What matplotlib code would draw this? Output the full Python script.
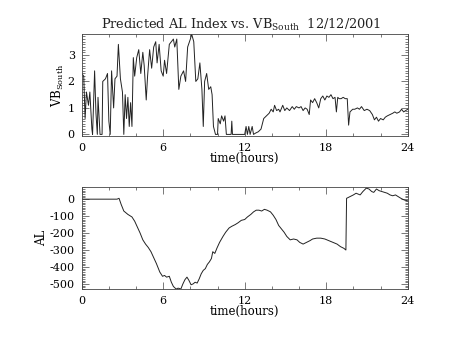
import matplotlib
matplotlib.use("Agg")
import matplotlib.pyplot as plt
from matplotlib.ticker import MultipleLocator

plt.rcParams["font.family"] = ["DejaVu Serif"]
plt.rcParams["axes.unicode_minus"] = False
plt.rcParams["mathtext.fontset"] = "dejavuserif"

# Southward IMF component (VB_South) vs. time of day
vb_hours = [0.0, 0.15, 0.25, 0.35, 0.5, 0.6, 0.75, 0.8, 0.95, 1.05, 1.15, 1.2, 1.35, 1.5,
            1.55, 1.75, 1.9, 2.0, 2.1, 2.2, 2.35, 2.45, 2.6, 2.7, 2.85, 3.0, 3.1, 3.2,
            3.3, 3.4, 3.5, 3.6, 3.7, 3.8, 3.9, 4.05, 4.2, 4.35, 4.5, 4.6, 4.75, 4.85,
            5.0, 5.15, 5.3, 5.45, 5.55, 5.7, 5.85, 6.0, 6.1, 6.25, 6.45, 6.6, 6.75,
            6.85, 7.0, 7.15, 7.3, 7.5, 7.65, 7.8, 8.0, 8.1, 8.25, 8.4, 8.55, 8.7, 8.85,
            8.95, 9.05, 9.2, 9.35, 9.5, 9.6, 9.7, 9.85, 10.0, 10.05, 10.2, 10.3, 10.45,
            10.55, 10.65, 11.0, 11.05, 11.1, 12.0, 12.1, 12.2, 12.3, 12.4, 12.55, 12.65,
            12.8, 13.0, 13.2, 13.4, 13.6, 13.8, 13.95, 14.1, 14.2, 14.35, 14.5, 14.6,
            14.8, 14.95, 15.1, 15.3, 15.5, 15.65, 15.8, 16.0, 16.15, 16.3, 16.45, 16.6,
            16.75, 16.85, 17.0, 17.15, 17.3, 17.45, 17.6, 17.75, 17.9, 18.05, 18.2,
            18.35, 18.5, 18.65, 18.75, 18.85, 18.95, 19.1, 19.25, 19.4, 19.55, 19.65,
            19.75, 19.95, 20.1, 20.3, 20.45, 20.6, 20.8, 21.0, 21.2, 21.4, 21.55, 21.7,
            21.85, 22.0, 22.2, 22.35, 22.5, 22.7, 22.9, 23.05, 23.2, 23.4, 23.55, 23.7,
            23.85, 24.0]
vb_south = [2.3, 2.2, 0.6, 1.6, 1.1, 1.6, 0.2, 0.0, 2.4, 0.8, 0.0, 1.4, 0.0, 0.0,
            2.0, 2.1, 2.3, 0.5, 0.0, 2.4, 1.0, 2.1, 2.2, 3.4, 2.1, 1.6, 0.0, 1.5,
            0.6, 1.4, 0.3, 1.2, 0.3, 2.9, 2.2, 2.9, 3.2, 2.3, 3.1, 2.6, 1.3, 2.2,
            3.2, 2.5, 3.3, 3.5, 2.7, 3.4, 2.4, 2.2, 2.8, 2.3, 3.4, 3.5, 3.6,
            3.3, 3.6, 1.7, 2.2, 2.4, 2.0, 3.3, 3.6, 3.78, 3.5, 2.0, 2.1, 2.7, 1.7,
            0.3, 2.0, 2.3, 1.7, 1.8, 1.5, 0.3, 0.0, 0.0, 0.6, 0.4, 0.7, 0.5,
            0.7, 0.0, 0.0, 0.5, 0.0, 0.0, 0.3, 0.0, 0.3, 0.0, 0.3, 0.0,
            0.05, 0.1, 0.2, 0.6, 0.7, 0.8, 0.95, 0.85, 1.1, 0.9, 0.95, 0.85,
            1.1, 0.9, 1.0, 0.9, 1.05, 0.95, 1.05, 1.0, 1.05, 0.9, 1.0, 0.95,
            0.75, 1.3, 1.2, 1.35, 1.2, 1.0, 1.35, 1.45, 1.3, 1.45, 1.4,
            1.5, 1.35, 1.4, 0.85, 1.4, 1.35, 1.35, 1.4, 1.35, 1.35, 0.35,
            0.85, 0.95, 0.95, 1.0, 0.95, 1.05, 0.9, 0.95, 0.9, 0.75, 0.55, 0.65,
            0.5, 0.6, 0.55, 0.65, 0.7, 0.75, 0.8, 0.85, 0.8, 0.85, 0.95, 0.85,
            0.9, 0.95]

# Predicted AL index vs. time of day
al_hours = [0.0, 2.6, 2.75, 2.9, 3.1, 3.4, 3.7, 3.9, 4.1, 4.3, 4.5, 4.7, 4.9, 5.1, 5.3,
            5.5, 5.6, 5.75, 5.95, 6.1, 6.25, 6.45, 6.6, 6.75, 6.95, 7.1, 7.3, 7.45,
            7.6, 7.75, 7.9, 8.05, 8.2, 8.35, 8.5, 8.65, 8.8, 8.95, 9.1, 9.25, 9.4,
            9.55, 9.65, 9.8, 9.95, 10.15, 10.4, 10.6, 10.85, 11.05, 11.3, 11.5, 11.75,
            12.0, 12.2, 12.45, 12.65, 12.85, 13.05, 13.25, 13.45, 13.65, 13.9, 14.1,
            14.3, 14.5, 14.7, 14.9, 15.1, 15.35, 15.6, 15.85, 16.05, 16.3, 16.55, 16.8,
            17.0, 17.3, 17.6, 17.9, 18.2, 18.5, 18.8, 19.05, 19.3, 19.45, 19.5, 19.75,
            20.0, 20.2, 20.35, 20.5, 20.7, 20.95, 21.15, 21.35, 21.5, 21.7, 21.9, 22.1,
            22.3, 22.5, 22.7, 22.9, 23.1, 23.3, 23.5, 23.75, 24.0]
al_index = [0, 0, 5, -30, -70, -90, -105, -130, -165, -200, -240, -265, -285, -310, -345,
            -380, -400, -430, -455, -450, -460, -455, -490, -515, -530, -525, -530, -500,
            -475, -460, -480, -505, -500, -490, -495, -470, -440, -420, -410, -385, -370,
            -350, -310, -320, -290, -255, -220, -195, -170, -160, -150, -140, -125,
            -120, -105, -90, -75, -65, -65, -70, -60, -65, -75, -95,
            -120, -155, -175, -195, -220, -240, -235, -240, -255, -265, -255, -245,
            -235, -230, -230, -235, -245, -255, -265, -280, -290, -300, 5, 15,
            25, 35, 30, 25, 45, 65, 60, 45, 40, 60, 50, 45,
            40, 35, 25, 20, 25, 15, 5, -5, -10]

x_ticks = [0, 6, 12, 18, 24]

W, H = 454, 341
fig = plt.figure(figsize=(W / 100, H / 100), dpi=100)
ax1 = fig.add_axes([81.7 / W, 1 - 136 / H, 326 / W, 101.7 / H])
ax2 = fig.add_axes([81.7 / W, 1 - 289 / H, 326 / W, 101.7 / H])

line_kw = dict(color="#222222", lw=0.7)
ax1.plot(vb_hours, vb_south, **line_kw)
ax2.plot(al_hours, al_index, **line_kw)

ax1.set_ylim(-0.06, 3.78)
ax2.set_ylim(-530, 70)

for ax in (ax1, ax2):
    ax.set_xlim(0, 24)
    ax.set_xticks(x_ticks)
    ax.xaxis.set_minor_locator(MultipleLocator(2))
    ax.tick_params(which="both", direction="in", top=True, right=True,
                   labelsize=8, color="#444444", width=0.5, pad=5)
    ax.tick_params(which="major", length=5)
    ax.tick_params(which="minor", length=2.5)
    for s in ax.spines.values():
        s.set_linewidth(0.6)
        s.set_color("#444444")
    ax.set_xlabel("time(hours)", fontsize=8.5, labelpad=-1)

ax1.set_yticks([0, 1, 2, 3])
ax1.yaxis.set_minor_locator(MultipleLocator(0.1))
ax2.set_yticks([0, -100, -200, -300, -400, -500])
ax2.yaxis.set_minor_locator(MultipleLocator(10))

ax1.set_ylabel(r"VB$_{\mathrm{South}}$", fontsize=8.5, labelpad=1)
ax2.set_ylabel("AL", fontsize=8.5, labelpad=1)

fig.text(241 / W, 1 - 29 / H,
         r"Predicted AL Index vs. VB$_{\mathrm{South}}$  12/12/2001",
         ha="center", va="baseline", fontsize=9.3, color="#222222")

fig.savefig("out.png", dpi=100)
